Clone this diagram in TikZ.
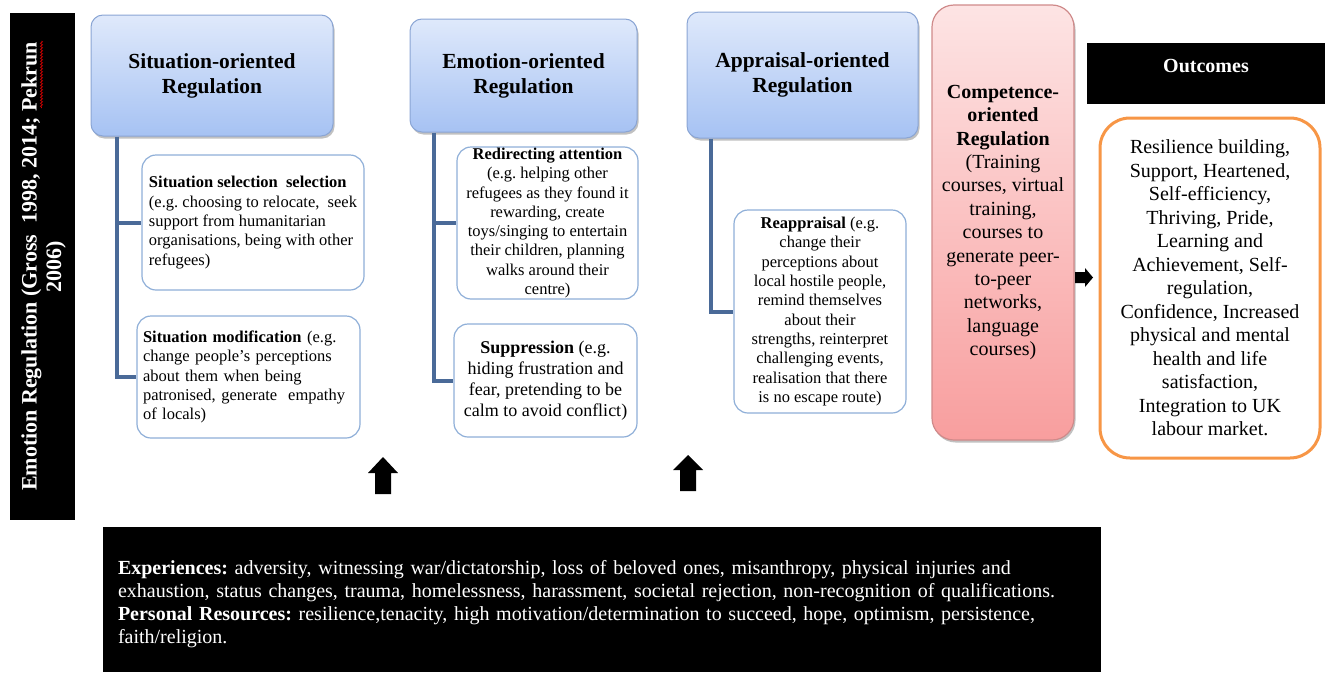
\documentclass[tikz,border=0pt]{standalone}
\usepackage{fontspec}
\setmainfont{Liberation Serif}
\usetikzlibrary{shadows,decorations.pathmorphing}
\definecolor{hdtop}{HTML}{DFE9FB}
\definecolor{hdbot}{HTML}{A6C2F3}
\definecolor{hdline}{HTML}{8AA5D4}
\definecolor{subline}{HTML}{8FAFD8}
\definecolor{connc}{HTML}{4A6A98}
\definecolor{cptop}{HTML}{FDE4E4}
\definecolor{cpbot}{HTML}{F89E9E}
\definecolor{cpline}{HTML}{CF8A8A}
\definecolor{outc}{HTML}{F79646}
\tikzset{
  shade/.style={drop shadow={shadow xshift=1.5pt,shadow yshift=-2.5pt,opacity=0.35,fill=black!70}},
  header/.style={draw=hdline, line width=1pt, rounded corners=12pt, top color=hdtop, bottom color=hdbot,
    align=center, inner sep=0pt, shade, font=\fontsize{21.5}{25}\selectfont\bfseries},
  subbox/.style={draw=subline, line width=1.2pt, rounded corners=14pt, fill=white, inner sep=0pt,
    font=\fontsize{16.5}{19.3}\selectfont},
  connector/.style={draw=connc, line width=4pt, line join=miter},
  blackbox/.style={fill=black, draw=none, inner sep=0pt},
  blockarrow/.style={fill=black, draw=none},
}
\begin{document}
\begin{tikzpicture}[x=1pt,y=-1pt]
\frenchspacing
\useasboundingbox (0,0) rectangle (1325,672);

% left bar
\node[blackbox, minimum width=65pt, minimum height=507pt] (lbar) at (42.5,266.5) {};
\node[text=white, rotate=90, align=center, font=\fontsize{22}{24.5}\selectfont\bfseries] (ltext) at ([xshift=1pt]lbar.center)
  {Emotion Regulation (Gross\ \ 1998, 2014; Pekrun\\2006)};
\draw[red!85!black, line width=0.7pt, decorate, decoration={zigzag, segment length=3pt, amplitude=1pt}] (41.5,41) -- (41.5,108);

% headers
\node[header, minimum width=242pt, minimum height=121pt] (h1) at (212,75.5) {Situation-oriented\\Regulation};
\node[header, minimum width=227pt, minimum height=113pt] (h2) at (523.5,75.5) {Emotion-oriented\\Regulation};
\node[header, minimum width=231pt, minimum height=126pt] (h3) at (802.5,75) {Appraisal-oriented\\Regulation};

% sub boxes
\node[subbox, minimum width=222pt, minimum height=135pt, align=left] (s1) at (253,222.5)
  {\textbf{Situation selection\ \ selection}\\(e.g. choosing to relocate,\ \ seek\\support from humanitarian\\organisations, being with other\\refugees)};
\node[subbox, minimum width=223pt, minimum height=122pt, text width=211pt, align=left] (s2) at (248.5,377)
  {\textbf{Situation modification} (e.g.\\change people's perceptions\\about them when being\\patronised, generate\ \ empathy\\of locals)};
\node[subbox, minimum width=181pt, minimum height=152pt, align=center] (e1) at (547.5,223)
  {\textbf{Redirecting attention}\\(e.g. helping other\\refugees as they found it\\rewarding, create\\toys/singing to entertain\\their children, planning\\walks around their\\centre)};
\node[subbox, minimum width=183pt, minimum height=113pt, align=center, font=\fontsize{18}{21}\selectfont] (e2) at (545.5,380.5)
  {\textbf{Suppression} (e.g.\\hiding frustration and\\fear, pretending to be\\calm to avoid conflict)};
\node[subbox, minimum width=172pt, minimum height=203pt, align=center] (a1) at (820,311.5)
  {\textbf{Reappraisal} (e.g.\\change their\\perceptions about\\local hostile people,\\remind themselves\\about their\\strengths, reinterpret\\challenging events,\\realisation that there\\is no escape route)};

% connectors
\coordinate (t1) at ([xshift=26pt]h1.south west);
\coordinate (t2) at ([xshift=24pt]h2.south west);
\coordinate (t3) at ([xshift=24pt]h3.south west);
\draw[connector] (t1) |- (s2.west);
\draw[connector] (t1 |- s1.west) -- (s1.west);
\draw[connector] (t2) |- (e2.west);
\draw[connector] (t2 |- e1.west) -- (e1.west);
\draw[connector] (t3) |- (a1.west);

% competence
\node[draw=cpline, line width=1.2pt, rounded corners=22pt, top color=cptop, bottom color=cpbot, shade,
  minimum width=142pt, minimum height=435pt, inner sep=0pt, align=center,
  font=\fontsize{20}{23.4}\selectfont] (comp) at (1003,222.5)
  {\textbf{Competence-}\\\textbf{oriented}\\\textbf{Regulation}\\(Training\\courses, virtual\\training,\\courses to\\generate peer-\\to-peer\\networks,\\language\\courses)};

% outcomes
\node[blackbox, minimum width=238pt, minimum height=61pt] (obar) at (1206,73.5) {};
\node[text=white, font=\fontsize{20}{24}\selectfont\bfseries] (olab) at ([yshift=7.5pt]obar.center) {Outcomes};
\node[draw=outc, line width=3pt, rounded corners=30pt, fill=white, minimum width=220pt, minimum height=340pt,
  inner sep=0pt, align=center, font=\fontsize{20}{23.5}\selectfont] (out) at (1210,288)
  {Resilience building,\\Support, Heartened,\\Self-efficiency,\\Thriving, Pride,\\Learning and\\Achievement, Self-\\regulation,\\Confidence, Increased\\physical and mental\\health and life\\satisfaction,\\Integration to UK\\labour market.};

% right arrow
\coordinate (ra) at (1075,277.5);
\fill[blockarrow, shift={(ra)}] (0,-5.5) -- (10,-5.5) -- (10,-9.5) -- (18,0) -- (10,9.5) -- (10,5.5) -- (0,5.5) -- cycle;

% up arrows
\coordinate (u1) at (383,494);
\coordinate (u2) at (688,491);
\fill[blockarrow, shift={(u1)}] (-8,0) -- (-8,-21) -- (-15,-21) -- (0,-37) -- (15,-21) -- (8,-21) -- (8,0) -- cycle;
\fill[blockarrow, shift={(u2)}] (-8,0) -- (-8,-21) -- (-15,-21) -- (0,-36) -- (15,-21) -- (8,-21) -- (8,0) -- cycle;

% bottom box
\node[blackbox, minimum width=998pt, minimum height=145pt] (bot) at (602,599.5) {};
\node[text=white, text width=980pt, align=left, inner sep=0pt,
  font=\fontsize{20}{23}\selectfont] (bottxt) at ([xshift=6pt,yshift=-5pt]bot.center)
  {\textbf{Experiences:} adversity, witnessing war/dictatorship, loss of beloved ones, misanthropy, physical injuries and\\
   exhaustion, status changes, trauma, homelessness, harassment, societal rejection, non-recognition of qualifications.\\
   \textbf{Personal Resources:} resilience,tenacity, high motivation/determination to succeed, hope, optimism, persistence,\\
   faith/religion.};
\end{tikzpicture}
\end{document}
